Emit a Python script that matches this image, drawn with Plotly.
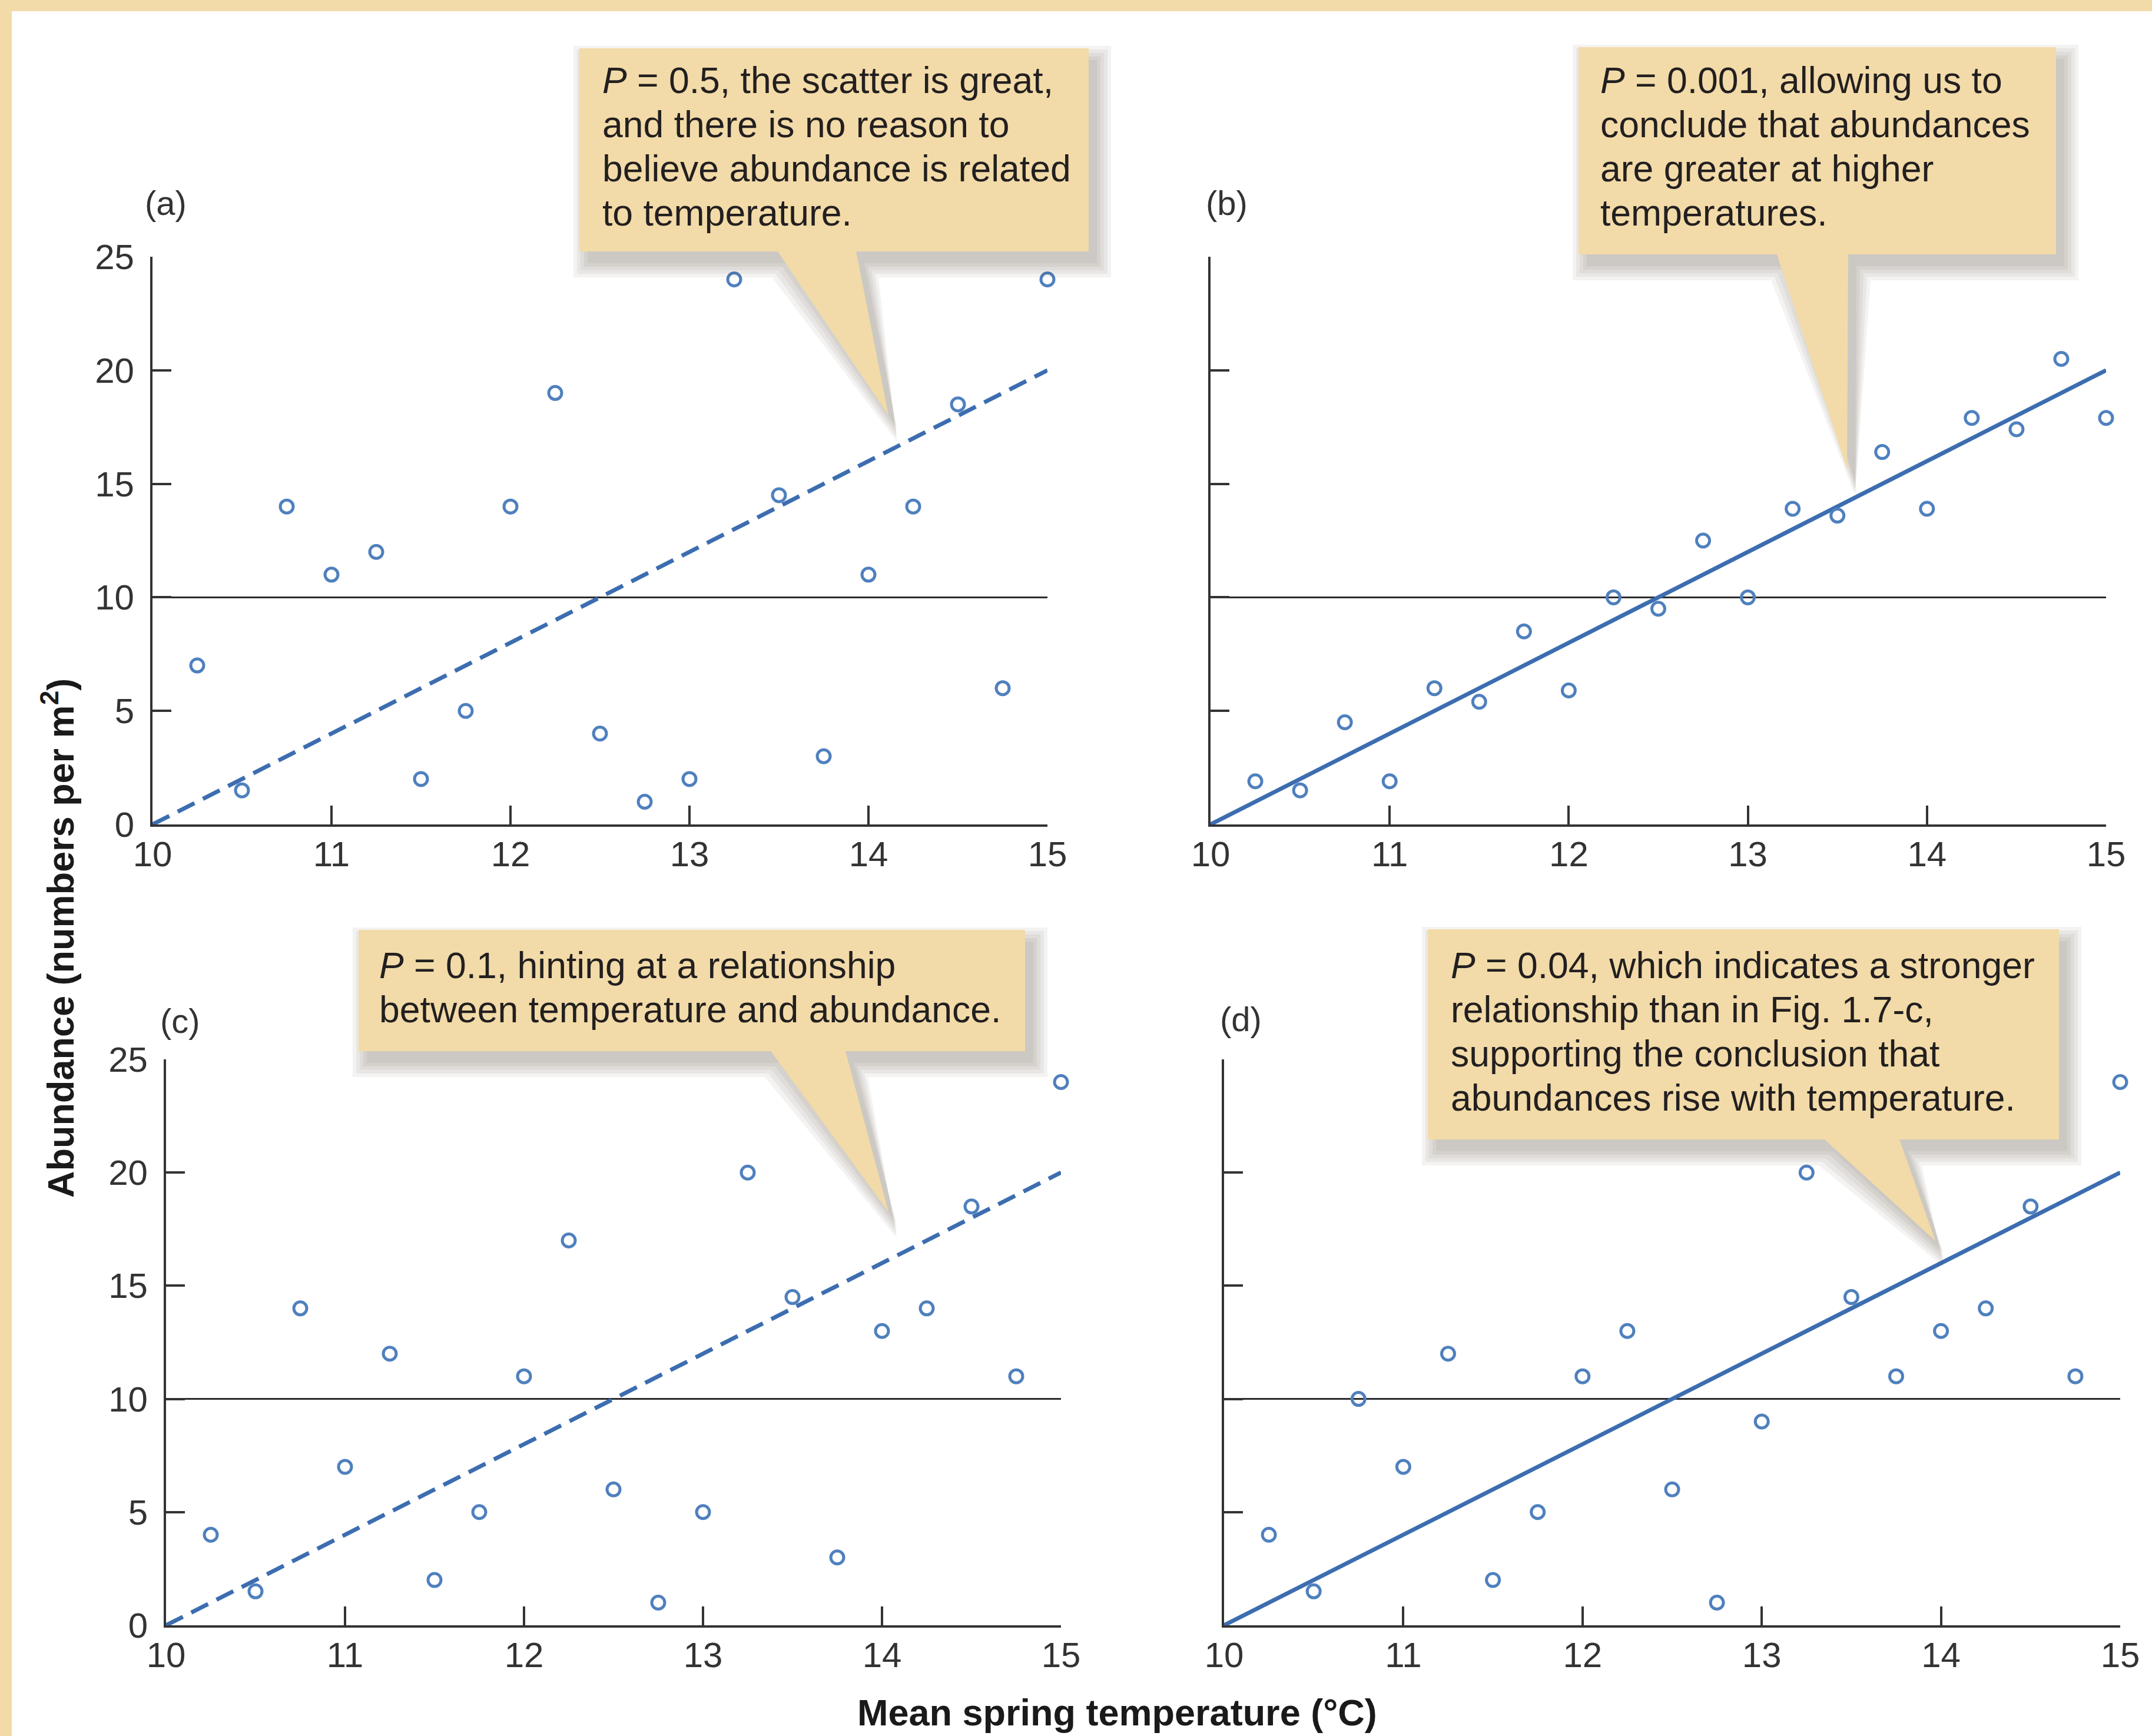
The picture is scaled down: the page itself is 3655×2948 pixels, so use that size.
import plotly.graph_objects as go

# ---------------- data ----------------
temps = [10.25, 10.5, 10.75, 11.0, 11.25, 11.5, 11.75, 12.0, 12.25, 12.5,
         12.75, 13.0, 13.25, 13.5, 13.75, 14.0, 14.25, 14.5, 14.75, 15.0]
abund_a = [7, 1.5, 14, 11, 12, 2, 5, 14, 19, 4, 1, 2, 24, 14.5, 3, 11, 14, 18.5, 6, 24]
abund_b = [1.9, 1.5, 4.5, 1.9, 6, 5.4, 8.5, 5.9, 10, 9.5, 12.5, 10, 13.9, 13.6, 16.4, 13.9, 17.9, 17.4, 20.5, 17.9]
abund_c = [4, 1.5, 14, 7, 12, 2, 5, 11, 17, 6, 1, 5, 20, 14.5, 3, 13, 14, 18.5, 11, 24]
abund_d = [4, 1.5, 10, 7, 12, 2, 5, 11, 13, 6, 1, 9, 20, 14.5, 11, 13, 14, 18.5, 11, 24]
fit_x = [10, 15]
fit_y = [0, 20]
mean_x = [10, 15]
mean_y = [10, 10]
x_ticks = [10, 11, 12, 13, 14, 15]
y_ticks = [0, 5, 10, 15, 20, 25]
panel_labels = ["(a)", "(b)", "(c)", "(d)"]
callout_a = ["<i>P</i> = 0.5, the scatter is great,", "and there is no reason to",
             "believe abundance is related", "to temperature."]
callout_b = ["<i>P</i> = 0.001, allowing us to", "conclude that abundances",
             "are greater at higher", "temperatures."]
callout_c = ["<i>P</i> = 0.1, hinting at a relationship", "between temperature and abundance."]
callout_d = ["<i>P</i> = 0.04, which indicates a stronger", "relationship than in Fig. 1.7-c,",
             "supporting the conclusion that", "abundances rise with temperature."]
y_title = "Abundance (numbers per m<sup>2</sup>)"
x_title = "Mean spring temperature (°C)"

# ---------------- styling / layout ----------------
W, H = 3655, 2948
def px(x): return x / W
def py(y): return 1 - y / H

BEIGE = "#F2DBA8"
AXC = "#333333"
MARK = "#4F80BE"
LINEC = "#3C6DB0"
FONT = "Liberation Sans, Arial, sans-serif"

panels = [
    dict(key="", data=abund_a, dash="32px,16px", xd=(259, 1779), yd=(436, 1400), labels=True,
         lab=(281, 344), lines=callout_a, tx=1021, ty=136,
         box=(984, 82, 1849, 427), ptr=(1321, 1454, 1509, 705)),
    dict(key="2", data=abund_b, dash="solid", xd=(2056, 3577), yd=(436, 1400), labels=False,
         lab=(2083, 344), lines=callout_b, tx=2716, ty=136,
         box=(2681, 80, 3492, 432), ptr=(3018, 3139, 3137, 797)),
    dict(key="3", data=abund_c, dash="32px,16px", xd=(282, 1802), yd=(1799, 2760), labels=True,
         lab=(306, 1733), lines=callout_c, tx=642, ty=1639,
         box=(609, 1579, 1741, 1785), ptr=(1309, 1436, 1509, 2058)),
    dict(key="4", data=abund_d, dash="solid", xd=(2079, 3601), yd=(1799, 2760), labels=False,
         lab=(2107, 1730), lines=callout_d, tx=2462, ty=1639,
         box=(2425, 1578, 3497, 1935), ptr=(3099, 3226, 3287, 2107)),
]

fig = go.Figure()
layout = dict(width=W, height=H, margin=dict(l=0, r=0, t=0, b=0, pad=0, autoexpand=False),
              paper_bgcolor="white", plot_bgcolor="rgba(0,0,0,0)", showlegend=False,
              template="none")
shapes = []
annotations = []

# beige frame strips (top and left)
shapes.append(dict(type="rect", xref="paper", yref="paper", x0=0, x1=1, y0=py(19), y1=1,
                   fillcolor=BEIGE, line=dict(width=0), layer="below"))
shapes.append(dict(type="rect", xref="paper", yref="paper", x0=0, x1=px(20), y0=0, y1=1,
                   fillcolor=BEIGE, line=dict(width=0), layer="below"))

def callout_path(box, ptr, dx=0, dy=0, g=0):
    l, t, r, b = box
    bl, br, tx, ty = ptr
    pts = [(l - g, t - g), (r + g, t - g), (r + g, b + g), (br + g, b + g), (tx, ty + g),
           (bl - g, b + g), (l - g, b + g)]
    return "M " + " L ".join(f"{px(x + dx):.5f},{py(y + dy):.5f}" for x, y in pts) + " Z"

for idx, p in enumerate(panels):
    k = p["key"]
    xa, ya = "x" + k, "y" + k
    fig.add_trace(go.Scatter(x=mean_x, y=mean_y, mode="lines", xaxis=xa, yaxis=ya,
                             line=dict(color="#2b2b2b", width=3), cliponaxis=False, hoverinfo="skip"))
    fig.add_trace(go.Scatter(x=fit_x, y=fit_y, mode="lines", xaxis=xa, yaxis=ya,
                             line=dict(color=LINEC, width=7, dash=p["dash"]), cliponaxis=False))
    fig.add_trace(go.Scatter(x=temps, y=p["data"], mode="markers", xaxis=xa, yaxis=ya,
                             marker=dict(symbol="circle-open", size=22, color=MARK,
                                         line=dict(width=5, color=MARK)), cliponaxis=False))
    axx = dict(domain=[px(p["xd"][0]), px(p["xd"][1])], range=[10, 15], anchor=ya,
               tickvals=x_ticks, ticks="inside", ticklen=32, tickwidth=4, tickcolor=AXC,
               showline=True, linewidth=4, linecolor=AXC, showgrid=False, zeroline=False,
               automargin=False,
               tickfont=dict(family=FONT, size=60, color=AXC), ticklabelstandoff=-5)
    axy = dict(domain=[py(p["yd"][1]), py(p["yd"][0])], range=[0, 25], anchor=xa,
               tickvals=y_ticks, ticks="inside", ticklen=32, tickwidth=4, tickcolor=AXC,
               showline=True, linewidth=4, linecolor=AXC, showgrid=False, zeroline=False,
               showticklabels=p["labels"], automargin=False,
               tickfont=dict(family=FONT, size=60, color=AXC), ticklabelstandoff=15)
    layout["xaxis" + k] = axx
    layout["yaxis" + k] = axy

    # panel label
    annotations.append(dict(xref="paper", yref="paper", x=px(p["lab"][0]), y=py(p["lab"][1]),
                            text=panel_labels[idx], showarrow=False,
                            xanchor="center", yanchor="middle",
                            font=dict(family=FONT, size=58, color=AXC)))
    # callout shadow + body
    for g in (24, 18, 12, 6, 0):
        shapes.append(dict(type="path", xref="paper", yref="paper",
                           path=callout_path(p["box"], p["ptr"], dx=14, dy=20, g=g),
                           fillcolor="rgba(60,50,40,0.06)", line=dict(width=0), layer="above"))
    shapes.append(dict(type="path", xref="paper", yref="paper", path=callout_path(p["box"], p["ptr"]),
                       fillcolor=BEIGE, line=dict(width=0), layer="above"))
    for i, line in enumerate(p["lines"]):
        annotations.append(dict(xref="paper", yref="paper", x=px(p["tx"]), y=py(p["ty"] + 75 * i),
                                text=line, showarrow=False, xanchor="left", yanchor="middle",
                                font=dict(family=FONT, size=62.5, color="#231f20")))

annotations.append(dict(xref="paper", yref="paper", x=px(98), y=py(1593), text="<b>" + y_title + "</b>",
                        textangle=-90, showarrow=False, xanchor="center", yanchor="middle",
                        font=dict(family=FONT, size=63, color="#1a1a1a")))
annotations.append(dict(xref="paper", yref="paper", x=px(1897), y=py(2908), text="<b>" + x_title + "</b>",
                        showarrow=False, xanchor="center", yanchor="middle",
                        font=dict(family=FONT, size=63, color="#1a1a1a")))

layout["shapes"] = shapes
layout["annotations"] = annotations
fig.update_layout(**layout)
fig.write_html("out.html", config={"displayModeBar": False},
               post_script="document.body.style.margin='0px';document.body.style.overflow='hidden';")
